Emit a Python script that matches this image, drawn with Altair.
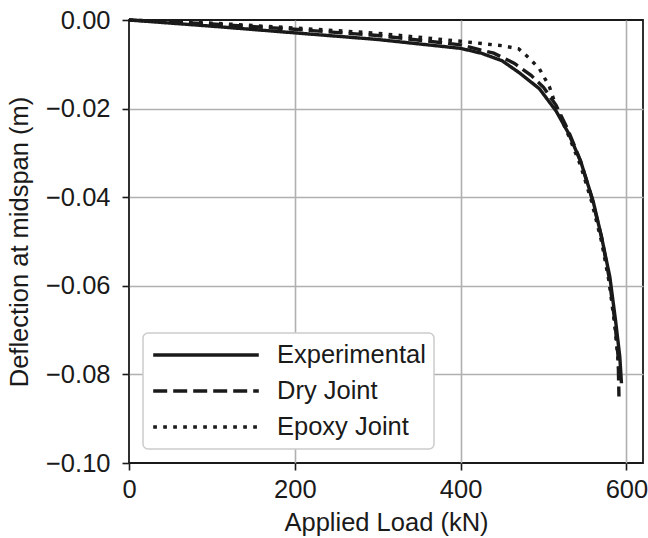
import altair as alt
import pandas as pd

series_names = ["Experimental", "Dry Joint", "Epoxy Joint"]

exp_load = [0, 100, 200, 300, 400, 425, 450, 470, 495, 515, 530, 545, 560, 570, 580, 587, 592, 594]
exp_defl = [0, -0.0014, -0.0029, -0.0044, -0.0064, -0.0075, -0.0092, -0.0118, -0.0155, -0.0205,
            -0.0255, -0.0320, -0.0410, -0.0490, -0.0580, -0.0680, -0.0760, -0.0820]

dry_load = [0, 100, 200, 300, 400, 440, 465, 485, 500, 515, 530, 545, 558, 570, 579, 586, 590, 591]
dry_defl = [0, -0.0009, -0.0021, -0.0035, -0.0056, -0.0075, -0.0098, -0.0125, -0.0152, -0.0192,
            -0.0250, -0.0320, -0.0400, -0.0490, -0.0580, -0.0680, -0.0760, -0.0850]

epx_load = [0, 100, 200, 300, 400, 450, 470, 482, 495, 507, 516, 530, 545, 558, 570, 579, 586, 590, 592]
epx_defl = [0, -0.0007, -0.0018, -0.0030, -0.0048, -0.0058, -0.0065, -0.0085, -0.0110, -0.0150,
            -0.0200, -0.0260, -0.0330, -0.0410, -0.0500, -0.0590, -0.0690, -0.0770, -0.0820]

x_ticks = [0, 200, 400, 600]
y_ticks = [0, -0.02, -0.04, -0.06, -0.08, -0.1]

rows = []
for name, xs, ys in [("Experimental", exp_load, exp_defl),
                     ("Dry Joint", dry_load, dry_defl),
                     ("Epoxy Joint", epx_load, epx_defl)]:
    for i, (x, y) in enumerate(zip(xs, ys)):
        rows.append({"series": name, "load": x, "defl": y, "idx": i})
df = pd.DataFrame(rows)

FONT = "Liberation Sans"
FS = 25.5
GRID = "#b0b0b0"
INK = "#1a1a1a"

chart = alt.Chart(df).mark_line(strokeWidth=3.4, strokeCap="butt", color=INK).encode(
    x=alt.X("load:Q", scale=alt.Scale(domain=[0, 620], nice=False, zero=False),
            axis=alt.Axis(title="Applied Load (kN)", values=x_ticks, format="d", labelFlush=False,
                          gridOpacity={"condition": {"test": "datum.value === 0", "value": 0}, "value": 1})),
    y=alt.Y("defl:Q", scale=alt.Scale(domain=[-0.1, 0], nice=False, zero=False),
            axis=alt.Axis(title="Deflection at midspan (m)", values=y_ticks, format=".2f", labelFlush=False,
                          gridOpacity={"condition": {"test": "abs(datum.value) < 1e-9 || abs(datum.value + 0.1) < 1e-9", "value": 0}, "value": 1},
                          labelPadding=12,
                          titleX=-97, titleY=221.5, titleAngle=270, titleBaseline="bottom")),
    strokeDash=alt.StrokeDash("series:N",
                              scale=alt.Scale(domain=series_names, range=[[1, 0], [14, 6], [3.7, 6.3]]),
                              sort=series_names,
                              legend=alt.Legend(title=None, orient="none", legendX=14, legendY=313,
                                                symbolType="M-4.4,0H4.4", symbolSize=576,
                                                symbolOffset=41,
                                                symbolStrokeWidth=3.4, symbolStrokeColor=INK,
                                                labelFontSize=FS, labelFont=FONT, labelColor=INK,
                                                labelOffset=57, rowPadding=8, padding=8,
                                                strokeColor="#cccccc", cornerRadius=5, fillColor="white")),
    order="idx:Q",
).properties(
    width=514, height=443,
    autosize=alt.AutoSizeParams(type="none"),
    padding={"left": 129, "top": 20, "right": 5, "bottom": 75},
).configure_view(
    stroke=INK, strokeWidth=1.8
).configure_axis(
    labelFont=FONT, titleFont=FONT, labelFontSize=FS, titleFontSize=FS,
    labelColor=INK, titleColor=INK, titleFontWeight="normal",
    domain=False, tickColor=INK, tickSize=7, tickWidth=1.6,
    labelPadding=7, gridColor=GRID, gridWidth=1.6,
).configure_axisX(
    titlePadding=8,
).configure_legend(
    strokeWidth=1.5,
)

chart.save("out.html", embed_options={"renderer": "svg", "actions": False})
